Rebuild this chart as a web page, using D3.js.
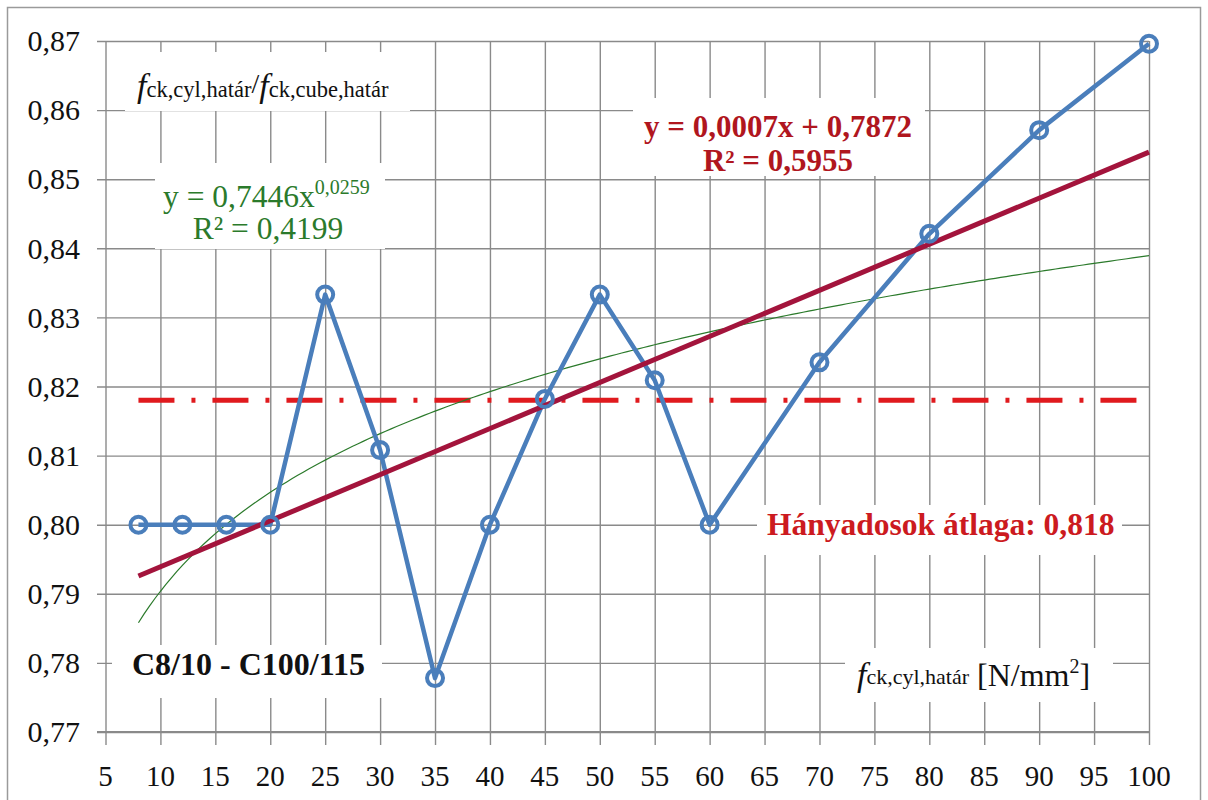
<!DOCTYPE html>
<html><head><meta charset="utf-8">
<script src="https://cdn.jsdelivr.net/npm/d3@7"></script>
<style>
html,body{margin:0;padding:0;background:#fff;}
svg{display:block;}
svg text{font-family:"Liberation Serif","Times New Roman",serif;}
</style></head>
<body>
<svg id="chart" width="1208" height="800"></svg>
<script>
// ---- data ----
const xValues = [8, 12, 16, 20, 25, 30, 35, 40, 45, 50, 55, 60, 70, 80, 90, 100];
const ratioValues = [0.800, 0.800, 0.800, 0.800, 0.8333, 0.8108, 0.7778, 0.800, 0.8182, 0.8333, 0.8209, 0.800, 0.8235, 0.8421, 0.8571, 0.8696];
const averageValue = [0.818];
const xTicks = [5,10,15,20,25,30,35,40,45,50,55,60,65,70,75,80,85,90,95,100];
const yTicks = [0.77,0.78,0.79,0.80,0.81,0.82,0.83,0.84,0.85,0.86,0.87];
const linearLabel = ["y = 0,0007x + 0,7872", "R² = 0,5955"];
const powerLabel = ["y = 0,7446x", "0,0259", "R² = 0,4199"];
const averageLabel = "Hányadosok átlaga: 0,818";
const rangeLabel = "C8/10 - C100/115";

const svg = d3.select("#chart");
const x = d3.scaleLinear().domain([5, 100]).range([105.5, 1149]);
const y = d3.scaleLinear().domain([0.77, 0.87]).range([732, 41]);
const gridColor = "#8a8a8a";

// outer frame
svg.append("rect").attr("x", 7.5).attr("y", 7.5).attr("width", 1193).attr("height", 800)
  .attr("fill", "#fff").attr("stroke", "#9a9a9a").attr("stroke-width", 1.5);

// y axis gridlines (labels drawn separately)
const yAxis = d3.axisLeft(y).tickValues(yTicks).tickFormat("")
  .tickSizeInner(-(1149 - 97)).tickSizeOuter(0);
const gy = svg.append("g").attr("transform", "translate(97,0)").call(yAxis);
gy.select(".domain").remove();
gy.selectAll("line").attr("stroke", gridColor).attr("stroke-width", 1.4);

// x axis gridlines
const xAxis = d3.axisBottom(x).tickValues(xTicks).tickFormat("")
  .tickSizeInner(-(745 - 41)).tickSizeOuter(0);
const gx = svg.append("g").attr("transform", "translate(0,745)").call(xAxis);
gx.select(".domain").remove();
gx.selectAll("line").attr("stroke", gridColor).attr("stroke-width", 1.4);

// tick labels
svg.append("g").selectAll("text").data(yTicks).join("text")
  .attr("x", 80).attr("y", d => y(d)).attr("dy", "0.34em")
  .attr("text-anchor", "end").style("font-size", "30px").attr("fill", "#111")
  .text(d => d.toFixed(2).replace(".", ","));
svg.append("g").selectAll("text").data(xTicks).join("text")
  .attr("x", d => x(d)).attr("y", 786)
  .attr("text-anchor", "middle").style("font-size", "29px").attr("fill", "#111")
  .text(d => d);

// bottom axis line
svg.append("line").attr("x1", 97).attr("x2", x(100)).attr("y1", y(0.77)).attr("y2", y(0.77))
  .attr("stroke", "#8a8a8a").attr("stroke-width", 2.2);

// white label boxes (hide gridlines)
const boxes = [
  [125, 52, 285, 59],
  [155, 163, 230, 86],
  [633, 98, 292, 78],
  [757, 505, 365, 50],
  [112, 645, 270, 53],
  [845, 648, 268, 54]
];
svg.selectAll("rect.box").data(boxes).join("rect").attr("class", "box")
  .attr("x", d => d[0]).attr("y", d => d[1]).attr("width", d => d[2]).attr("height", d => d[3])
  .attr("fill", "#fff");

// trend fits computed from data
const mx = d3.mean(xValues), my = d3.mean(ratioValues);
const slope = d3.sum(xValues, (v, i) => (v - mx) * (ratioValues[i] - my)) / d3.sum(xValues, v => (v - mx) ** 2);
const intercept = my - slope * mx;
const lx = xValues.map(Math.log), ly = ratioValues.map(Math.log);
const mlx = d3.mean(lx), mly = d3.mean(ly);
const pb = d3.sum(lx, (v, i) => (v - mlx) * (ly[i] - mly)) / d3.sum(lx, v => (v - mlx) ** 2);
const pa = Math.exp(mly - pb * mlx);

const xmin = d3.min(xValues), xmax = d3.max(xValues);
const powerPts = d3.range(xmin, xmax + 0.001, 0.5).map(v => [v, pa * Math.pow(v, pb)]);
const line = d3.line().x(d => x(d[0])).y(d => y(d[1]));

// average dash-dot line
svg.append("line").attr("x1", x(xmin)).attr("x2", x(xmax))
  .attr("y1", y(averageValue[0])).attr("y2", y(averageValue[0]))
  .attr("stroke", "#e01a1e").attr("stroke-width", 5)
  .attr("stroke-dasharray", "36,17,4,17");

// power trend
svg.append("path").attr("d", line(powerPts)).attr("fill", "none")
  .attr("stroke", "#2b7a2b").attr("stroke-width", 1.2);

// data series
svg.append("path").attr("d", line(xValues.map((v, i) => [v, ratioValues[i]])))
  .attr("fill", "none").attr("stroke", "#4a7ebb").attr("stroke-width", 4.5)
  .attr("stroke-linejoin", "round");

// linear trend
svg.append("path").attr("d", line([[xmin, intercept + slope * xmin], [xmax, intercept + slope * xmax]]))
  .attr("fill", "none").attr("stroke", "#a3143c").attr("stroke-width", 5);

svg.selectAll("circle.pt").data(xValues).join("circle").attr("class", "pt")
  .attr("cx", d => x(d)).attr("cy", (d, i) => y(ratioValues[i])).attr("r", 8)
  .attr("fill", "none").attr("stroke", "#4a7ebb").attr("stroke-width", 4);

// texts
const T = (xx, yy, txt, opts = {}) => svg.append("text").attr("x", xx).attr("y", yy)
  .style("font-size", (opts.size || 30) + "px").attr("font-weight", opts.bold ? "bold" : "normal")
  .attr("fill", opts.fill || "#111").attr("text-anchor", opts.anchor || "start").text(txt);

T(778, 137, linearLabel[0], {bold: true, fill: "#b0161e", anchor: "middle", size: 31});
T(778, 171, linearLabel[1], {bold: true, fill: "#b0161e", anchor: "middle", size: 31});

const pe = svg.append("text").attr("x", 163).attr("y", 207).style("font-size", "31.5px").attr("fill", "#2b7a2b");
pe.append("tspan").text(powerLabel[0]);
pe.append("tspan").attr("dy", -13).style("font-size", "20px").text(powerLabel[1]);
T(268, 239, powerLabel[2], {fill: "#2b7a2b", anchor: "middle", size: 31.5});

T(767, 535, averageLabel, {bold: true, fill: "#cc1a20", size: 31.5});
T(132, 675, rangeLabel, {bold: true, fill: "#111", size: 32});

// axis title (ratio)
const t1 = svg.append("text").attr("x", 137).attr("y", 97).attr("fill", "#111");
t1.append("tspan").attr("font-style", "italic").style("font-size", "34px").text("f");
t1.append("tspan").style("font-size", "22.5px").text("ck,cyl,határ");
t1.append("tspan").style("font-size", "28px").attr("dy", -4).text("/");
t1.append("tspan").attr("font-style", "italic").style("font-size", "34px").attr("dy", 4).text("f");
t1.append("tspan").style("font-size", "22.5px").text("ck,cube,határ");

// axis title (x)
const t2 = svg.append("text").attr("x", 857).attr("y", 686).attr("fill", "#111");
t2.append("tspan").attr("font-style", "italic").style("font-size", "34px").text("f");
t2.append("tspan").style("font-size", "22px").attr("dy", -2).text("ck,cyl,határ");
t2.append("tspan").style("font-size", "32px").attr("dy", 2).text(" [N/mm");
t2.append("tspan").style("font-size", "20px").attr("dy", -13).text("2");
t2.append("tspan").style("font-size", "32px").attr("dy", 13).text("]");
</script>
</body></html>
